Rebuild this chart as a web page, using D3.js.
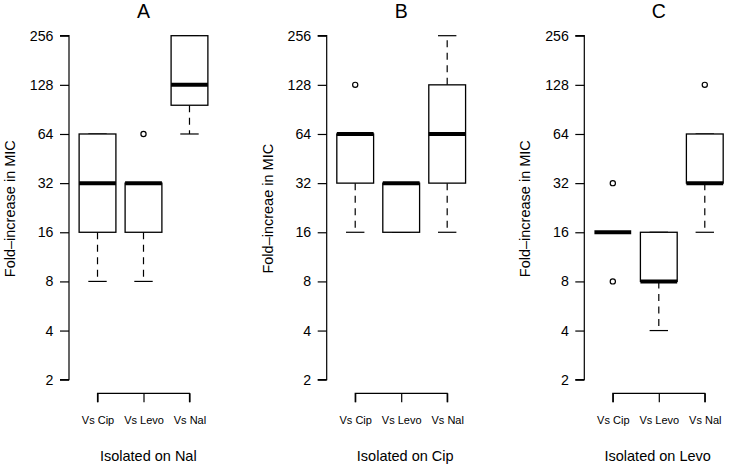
<!DOCTYPE html>
<html>
<head>
<meta charset="utf-8">
<script src="https://cdn.jsdelivr.net/npm/d3@7"></script>
<style>
  html, body { margin: 0; padding: 0; background: #fff; }
  text { font-family: "Liberation Sans", Arial, Helvetica, sans-serif; fill: #000; }
</style>
</head>
<body>
<svg id="chart" width="733" height="464"></svg>
<script>
// ---- data ----
const categories = ["Vs Cip", "Vs Levo", "Vs Nal"];
const panelTitles = ["A", "B", "C"];
const xTitles = ["Isolated on Nal", "Isolated on Cip", "Isolated on Levo"];
const yTitles = ["Fold\u2013increase in MIC", "Fold\u2013increae in MIC", "Fold\u2013increase in MIC"];
const yTicks = [2, 4, 8, 16, 32, 64, 128, 256];

// box stats: [lower whisker, Q1, median, Q3, upper whisker]
const statsA = [[8, 16, 32, 64, 64], [8, 16, 32, 32, 32], [64, 96, 128, 256, 256]];
const outliersA = [[], [64], []];
const statsB = [[16, 32, 64, 64, 64], [16, 16, 32, 32, 32], [16, 32, 64, 128, 256]];
const outliersB = [[128], [], []];
const statsC = [[16, 16, 16, 16, 16], [4, 8, 8, 16, 16], [16, 32, 32, 64, 64]];
const outliersC = [[8, 32], [], [128]];

const panels = [
  { stats: statsA, outliers: outliersA },
  { stats: statsB, outliers: outliersB },
  { stats: statsC, outliers: outliersC }
];

// ---- layout ----
const axisX = [69, 326.7, 584.3];
const plotW = 149;
const xTitleCenter = [148.3, 405.2, 657.7];
const yTop = 35.7, yBottom = 379.7, xAxisY = 393.3;

const svg = d3.select("#chart");

const y = d3.scaleLog().base(2).domain([2, 256]).range([yBottom, yTop]);

panels.forEach((p, pi) => {
  const x0 = axisX[pi];
  const x = d3.scaleLinear().domain([0.38, 3.62]).range([x0, x0 + plotW]);
  const unit = x(1) - x(0);
  const boxW = 0.8 * unit;
  const capW = boxW / 2;
  const g = svg.append("g");

  // y axis
  const yAxis = d3.axisLeft(y).tickValues(yTicks).tickFormat(d3.format("d")).tickSize(9).tickPadding(6.5);
  const ya = g.append("g").attr("transform", `translate(${x0},0)`).call(yAxis);
  ya.select(".domain").attr("d", `M-9,${yTop}H0V${yBottom}H-9`).attr("stroke", "#000").attr("stroke-width", 1.2);
  ya.selectAll(".tick line").attr("stroke", "#000").attr("stroke-width", 1.2);
  ya.selectAll(".tick text").attr("font-size", "14.2px").attr("font-family", "'Liberation Sans', Arial, sans-serif").attr("fill", "#000");

  // x axis
  const xAxis = d3.axisBottom(x).tickValues([1, 2, 3]).tickFormat((d) => categories[d - 1]).tickSize(9).tickPadding(14);
  const xa = g.append("g").attr("transform", `translate(0,${xAxisY})`).call(xAxis);
  xa.select(".domain").attr("d", `M${x(1)},9V0H${x(3)}V9`).attr("stroke", "#000").attr("stroke-width", 1.2).attr("fill", "none");
  xa.selectAll(".tick line").attr("stroke", "#000").attr("stroke-width", 1.2);
  xa.selectAll(".tick text").attr("font-size", "11px").attr("font-family", "'Liberation Sans', Arial, sans-serif").attr("fill", "#000");

  // boxes
  p.stats.forEach((s, i) => {
    const cx = x(i + 1);
    const [lw, q1, med, q3, uw] = s;
    // whiskers
    [[q1, lw], [q3, uw]].forEach(([a, b]) => {
      if (a !== b) {
        g.append("line").attr("x1", cx).attr("x2", cx).attr("y1", y(a)).attr("y2", y(b))
          .attr("stroke", "#000").attr("stroke-width", 1.2).attr("stroke-dasharray", "7,5.5");
      }
      g.append("line").attr("x1", cx - capW / 2).attr("x2", cx + capW / 2).attr("y1", y(b)).attr("y2", y(b))
        .attr("stroke", "#000").attr("stroke-width", 1.2);
    });
    // box
    g.append("rect").attr("x", cx - boxW / 2).attr("width", boxW)
      .attr("y", y(q3)).attr("height", y(q1) - y(q3))
      .attr("fill", "#fff").attr("stroke", "#000").attr("stroke-width", 1.3);
    // median
    g.append("line").attr("x1", cx - boxW / 2).attr("x2", cx + boxW / 2).attr("y1", y(med)).attr("y2", y(med))
      .attr("stroke", "#000").attr("stroke-width", 4);
    // outliers
    p.outliers[i].forEach((o) => {
      g.append("circle").attr("cx", cx).attr("cy", y(o)).attr("r", 2.6)
        .attr("fill", "none").attr("stroke", "#000").attr("stroke-width", 1.2);
    });
  });

  // titles
  g.append("text").attr("x", x(2)).attr("y", 18.3).attr("text-anchor", "middle")
    .attr("font-size", "19.5px").text(panelTitles[pi]);
  g.append("text").attr("x", xTitleCenter[pi]).attr("y", 461).attr("text-anchor", "middle")
    .attr("font-size", "14.5px").text(xTitles[pi]);
  g.append("text").attr("transform", `translate(${x0 - 54},${(yTop + yBottom) / 2 + 1}) rotate(-90)`)
    .attr("text-anchor", "middle").attr("font-size", "14.5px").text(yTitles[pi]);
});
</script>
</body>
</html>
